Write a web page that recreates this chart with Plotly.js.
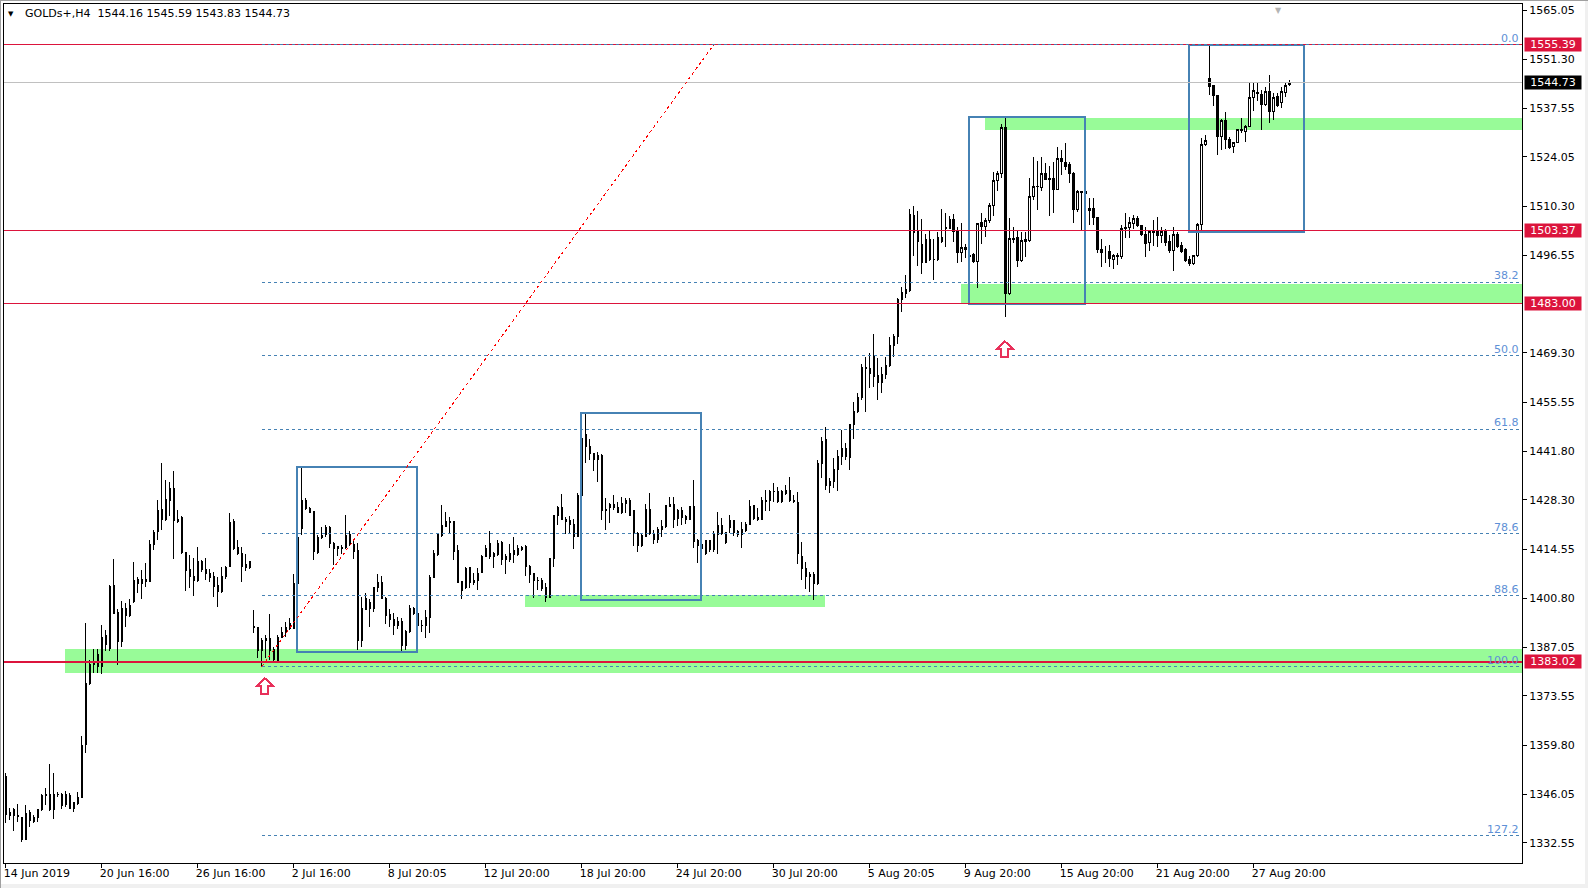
<!DOCTYPE html>
<html>
<head>
<meta charset="utf-8">
<script src="https://cdn.plot.ly/plotly-3.0.1.min.js"></script>
<style>
html,body{margin:0;padding:0;background:#fff;}
#chart{width:1588px;height:888px;}
.shapelayer path{shape-rendering:crispEdges;}
.trace.boxes path{shape-rendering:crispEdges;}
</style>
</head>
<body>
<div id="chart"></div>
<script>
// ---- Data (GOLDs+, H4, one value per bar, bar 0 = 14 Jun 2019 16:00) ----
const open = [
1351.0,1340.0,1341.7,1340.0,1339.6,1333.5,1340.9,1338.6,1339.6,1341.7,
1345.8,1346.1,1341.9,1346.1,1346.1,1345.9,1345.6,1342.1,1343.5,1345.2,
1360.1,1376.9,1382.4,1385.0,1381.7,1390.3,1386.8,1404.4,1396.9,1388.7,
1398.0,1395.9,1400.0,1406.1,1404.8,1406.1,1405.4,1415.7,1419.4,1425.5,
1422.8,1428.2,1431.5,1422.2,1423.4,1413.5,1408.7,1407.0,1405.7,1411.0,
1408.9,1407.8,1406.8,1404.5,1402.6,1406.8,1409.6,1422.1,1415.0,1413.2,
1410.1,1409.3,1393.0,1392.7,1386.2,1389.0,1389.6,1386.5,1383.4,1389.9,
1391.2,1392.4,1392.4,1405.0,1420.3,1428.2,1425.9,1424.9,1413.5,1417.8,
1418.5,1420.6,1416.1,1415.2,1414.8,1415.0,1418.6,1415.9,1414.1,1389.1,
1397.7,1399.6,1398.0,1403.8,1405.2,1400.8,1396.4,1394.9,1393.1,1394.3,
1387.7,1391.5,1398.0,1396.6,1393.3,1393.1,1395.5,1406.6,1412.9,1418.2,
1420.8,1421.9,1422.2,1414.1,1405.4,1403.8,1409.4,1405.2,1405.7,1408.0,
1412.4,1416.1,1412.4,1413.1,1416.3,1412.4,1411.5,1414.1,1413.1,1414.5,
1415.2,1409.8,1407.6,1405.9,1405.9,1403.8,1401.1,1411.8,1423.8,1426.2,
1422.9,1422.5,1421.3,1418.0,1429.6,1446.4,1443.3,1441.1,1439.6,1440.8,
1425.5,1426.2,1426.9,1426.2,1424.7,1427.3,1428.2,1425.3,1418.9,1415.4,
1418.0,1425.6,1418.9,1417.2,1419.9,1420.8,1426.4,1427.0,1423.1,1425.4,
1423.6,1422.9,1426.4,1416.8,1415.7,1413.2,1416.8,1414.3,1418.5,1421.0,
1419.1,1420.6,1422.4,1419.4,1418.5,1419.7,1421.4,1426.6,1422.7,1422.9,
1427.8,1428.1,1430.6,1430.6,1427.8,1430.8,1431.0,1428.2,1427.6,1412.6,
1409.2,1407.0,1407.3,1404.8,1438.3,1445.0,1432.2,1433.3,1436.8,1440.3,
1442.7,1440.1,1449.2,1452.9,1456.9,1465.3,1465.0,1468.3,1462.9,1461.0,
1463.2,1465.9,1471.5,1474.0,1484.3,1485.8,1486.7,1507.8,1503.2,1499.7,
1494.5,1501.0,1495.3,1495.3,1501.6,1504.1,1504.1,1506.6,1503.2,1497.3,
1498.8,1496.5,1496.9,1494.8,1505.6,1504.6,1506.4,1510.6,1517.6,1519.3,
1532.3,1486.0,1501.3,1501.6,1495.1,1500.4,1500.7,1513.1,1515.9,1515.5,
1519.3,1518.1,1518.1,1515.0,1523.7,1522.6,1521.8,1519.3,1509.4,1514.4,
1514.4,1509.0,1509.7,1507.2,1498.3,1497.5,1497.5,1495.5,1496.2,1496.2,
1504.0,1504.4,1505.5,1506.9,1504.8,1502.5,1500.1,1503.2,1503.2,1502.0,
1503.2,1500.4,1497.9,1502.5,1499.2,1498.2,1495.5,1494.3,1496.4,1505.3,
1527.4,1546.0,1543.9,1541.1,1529.7,1534.2,1529.0,1526.9,1528.0,1531.6,
1531.1,1532.5,1540.7,1541.9,1541.6,1538.6,1542.3,1536.7,1540.9,1539.2,
1542.0,1544.16];
const high = [
1352.1,1342.1,1342.1,1343.4,1339.8,1343.1,1341.7,1340.3,1341.9,1346.1,
1347.7,1354.5,1352.1,1346.8,1346.3,1347.1,1346.3,1344.0,1346.8,1362.3,
1393.8,1383.6,1386.5,1386.5,1393.3,1391.9,1404.5,1411.8,1397.7,1400.1,
1399.4,1400.5,1411.0,1406.6,1408.7,1410.6,1417.1,1419.9,1428.2,1438.7,
1433.8,1433.4,1436.2,1425.5,1423.8,1413.8,1412.9,1412.0,1415.0,1411.5,
1412.0,1408.9,1408.2,1406.8,1409.6,1409.8,1424.7,1422.8,1417.1,1415.0,
1413.2,1411.3,1397.5,1392.9,1389.6,1390.5,1396.4,1387.3,1390.5,1392.9,
1394.3,1395.2,1407.6,1418.2,1437.1,1428.7,1426.4,1425.0,1418.5,1420.8,
1421.3,1421.0,1416.6,1415.4,1415.7,1424.0,1419.7,1417.3,1416.1,1401.2,
1402.2,1400.5,1404.0,1407.6,1407.0,1401.2,1397.7,1396.6,1395.7,1395.2,
1391.9,1398.9,1398.4,1397.0,1394.7,1397.5,1407.3,1414.3,1418.9,1426.8,
1425.0,1423.6,1422.5,1415.7,1405.6,1409.6,1409.6,1407.8,1409.2,1412.8,
1415.7,1419.7,1413.8,1417.1,1416.9,1413.3,1416.0,1418.0,1415.7,1415.4,
1415.7,1410.1,1407.9,1406.6,1406.4,1405.0,1412.1,1424.0,1426.6,1429.9,
1423.6,1423.8,1422.8,1430.1,1445.6,1452.4,1445.2,1441.5,1441.7,1441.0,
1428.7,1427.3,1429.6,1427.8,1429.2,1428.7,1428.7,1425.5,1419.4,1418.8,
1427.1,1430.1,1419.9,1420.8,1422.7,1426.8,1429.2,1429.2,1425.6,1426.4,
1424.0,1426.6,1433.8,1417.3,1416.1,1417.1,1417.1,1419.7,1425.0,1423.1,
1419.4,1424.0,1422.5,1419.9,1422.2,1422.2,1428.2,1426.8,1425.9,1429.2,
1430.9,1431.0,1432.9,1432.0,1431.0,1432.4,1434.6,1429.6,1430.6,1416.6,
1411.0,1408.0,1408.2,1439.4,1445.9,1448.7,1434.3,1439.9,1442.2,1447.8,
1444.1,1449.6,1455.7,1458.0,1466.2,1468.3,1469.4,1474.6,1467.8,1465.5,
1468.3,1473.8,1474.6,1484.6,1487.8,1491.1,1509.4,1510.4,1509.0,1506.6,
1502.5,1503.6,1501.0,1503.2,1509.4,1508.3,1507.5,1508.1,1504.4,1505.7,
1499.7,1496.9,1497.1,1505.7,1508.4,1506.9,1511.1,1519.7,1520.0,1533.3,
1535.1,1506.9,1504.4,1503.6,1503.2,1503.2,1518.1,1524.1,1523.0,1524.1,
1522.3,1521.5,1522.7,1526.7,1526.0,1527.9,1522.7,1519.9,1514.8,1514.6,
1514.5,1512.5,1512.5,1507.4,1501.0,1499.2,1499.5,1497.0,1497.1,1505.0,
1508.5,1507.4,1507.8,1507.5,1505.0,1504.4,1503.6,1506.3,1507.2,1504.4,
1503.8,1502.3,1504.6,1503.2,1500.4,1498.5,1496.4,1496.7,1505.7,1529.2,
1530.2,1555.4,1544.1,1541.3,1534.5,1536.7,1529.5,1528.3,1531.8,1534.8,
1533.0,1544.8,1544.6,1544.6,1542.6,1543.5,1546.9,1542.0,1542.0,1543.5,
1545.1,1545.59];
const low = [
1338.0,1338.9,1335.9,1338.4,1332.6,1333.3,1336.8,1338.0,1338.4,1341.5,
1343.1,1341.5,1339.1,1345.2,1341.9,1342.6,1341.9,1341.2,1343.1,1345.2,
1357.5,1376.6,1379.8,1379.8,1379.7,1386.2,1386.2,1396.4,1382.2,1387.3,
1392.9,1395.7,1399.4,1402.2,1400.5,1404.0,1405.4,1414.3,1417.1,1419.9,
1422.5,1423.8,1411.7,1421.7,1413.3,1402.9,1403.6,1401.4,1405.4,1408.2,
1405.9,1405.4,1401.1,1398.5,1402.2,1406.1,1409.4,1414.3,1412.9,1405.4,
1408.5,1408.9,1391.0,1384.0,1381.7,1384.0,1383.6,1382.6,1383.4,1389.6,
1389.9,1391.9,1392.4,1405.0,1418.5,1425.4,1424.5,1411.5,1413.2,1417.3,
1417.8,1414.7,1410.1,1412.6,1413.3,1414.5,1415.4,1411.9,1386.3,1387.3,
1397.5,1392.7,1397.1,1402.6,1400.5,1393.6,1392.9,1390.5,1392.1,1385.9,
1386.3,1391.0,1396.1,1393.1,1391.5,1389.6,1391.2,1406.4,1412.6,1418.0,
1420.6,1419.1,1411.5,1405.0,1400.5,1403.3,1403.8,1404.5,1403.1,1407.8,
1412.2,1411.9,1409.2,1412.6,1410.1,1407.6,1411.0,1410.6,1412.6,1414.1,
1407.0,1405.2,1400.8,1403.1,1402.8,1399.8,1400.8,1409.6,1421.3,1422.7,
1418.8,1418.8,1414.5,1417.8,1429.4,1438.5,1439.4,1436.2,1433.4,1422.7,
1419.9,1421.9,1425.5,1424.5,1424.3,1424.5,1423.8,1415.4,1413.8,1415.2,
1417.8,1418.5,1416.0,1416.1,1418.0,1420.3,1426.2,1420.3,1421.0,1421.3,
1421.5,1422.7,1414.7,1410.7,1413.8,1412.9,1413.8,1413.8,1413.2,1418.5,
1416.0,1418.9,1418.2,1418.0,1414.7,1419.4,1421.3,1422.7,1422.5,1422.7,
1425.3,1425.3,1427.8,1427.5,1427.3,1429.6,1427.8,1427.5,1410.4,1406.0,
1403.5,1402.6,1400.2,1404.5,1434.3,1431.0,1430.1,1431.5,1430.8,1438.0,
1439.4,1436.6,1445.4,1452.6,1456.2,1452.9,1459.4,1459.9,1456.2,1458.2,
1461.9,1465.5,1468.1,1471.8,1480.8,1484.6,1486.4,1496.4,1493.6,1491.4,
1494.3,1495.1,1489.7,1495.1,1500.1,1498.8,1503.8,1500.4,1494.5,1494.8,
1495.7,1495.7,1494.5,1487.4,1499.6,1501.6,1505.5,1507.6,1514.4,1518.1,
1479.3,1485.5,1499.9,1493.4,1494.8,1496.2,1500.4,1512.0,1509.2,1514.6,
1517.6,1507.6,1508.5,1514.8,1519.0,1520.4,1516.7,1505.5,1508.8,1503.5,
1513.7,1505.0,1505.0,1497.3,1493.2,1494.3,1493.2,1492.7,1493.9,1495.5,
1501.3,1501.3,1503.8,1504.6,1502.0,1496.2,1497.9,1499.2,1498.8,1499.9,
1499.2,1497.3,1492.3,1498.5,1497.3,1494.8,1493.6,1493.9,1496.2,1503.2,
1527.1,1541.3,1538.3,1524.6,1526.0,1526.2,1526.2,1525.2,1527.8,1530.6,
1528.3,1532.3,1537.0,1539.8,1531.6,1538.3,1533.6,1534.4,1537.9,1537.6,
1540.9,1543.83];
const close = [
1340.3,1340.9,1340.0,1339.8,1333.5,1340.7,1338.7,1339.5,1341.7,1345.8,
1346.1,1341.7,1346.1,1346.0,1343.0,1343.3,1342.1,1343.7,1345.2,1359.8,
1377.0,1382.4,1382.6,1381.7,1389.9,1387.8,1404.2,1396.6,1388.7,1398.0,
1395.9,1398.9,1405.9,1404.8,1406.1,1405.4,1415.7,1419.1,1425.3,1422.8,
1428.4,1431.5,1422.5,1422.9,1413.5,1408.5,1406.8,1405.7,1411.0,1408.7,
1407.8,1406.6,1404.2,1402.6,1407.0,1409.4,1421.9,1414.7,1413.2,1409.8,
1409.3,1411.0,1392.7,1386.3,1389.0,1389.6,1386.2,1383.7,1389.9,1391.2,
1392.7,1393.8,1405.0,1417.8,1428.2,1425.9,1424.7,1413.8,1417.8,1418.2,
1420.6,1416.0,1414.7,1414.6,1415.0,1418.4,1415.7,1413.8,1389.1,1398.0,
1400.8,1398.0,1403.8,1405.2,1400.8,1396.1,1394.9,1393.1,1394.3,1387.7,
1391.5,1398.0,1396.6,1393.3,1393.1,1395.5,1406.6,1413.2,1418.5,1421.0,
1422.2,1422.2,1413.8,1405.2,1403.1,1409.2,1405.2,1405.9,1407.8,1412.6,
1414.7,1412.4,1413.3,1416.1,1411.5,1411.7,1413.3,1412.9,1414.6,1415.0,
1409.6,1407.3,1405.7,1405.7,1403.6,1401.1,1411.8,1423.8,1426.1,1422.9,
1422.2,1421.3,1418.0,1429.6,1445.4,1443.1,1441.1,1439.6,1440.8,1425.3,
1425.4,1426.9,1426.1,1424.7,1427.3,1428.2,1424.0,1418.8,1415.4,1418.2,
1425.6,1418.8,1417.2,1419.9,1420.8,1426.6,1427.0,1422.9,1425.4,1423.4,
1422.9,1426.4,1416.6,1415.5,1414.7,1416.8,1414.3,1418.5,1421.0,1418.8,
1416.3,1422.4,1419.1,1418.5,1419.9,1421.5,1426.4,1423.1,1423.3,1428.2,
1428.2,1430.6,1430.5,1427.8,1430.6,1430.1,1428.1,1427.8,1413.4,1409.2,
1407.0,1407.3,1404.8,1438.3,1444.7,1432.2,1433.5,1436.8,1440.5,1442.7,
1440.5,1449.2,1452.9,1456.9,1465.3,1465.1,1463.6,1462.7,1461.0,1463.2,
1465.9,1471.5,1474.0,1484.3,1486.1,1486.9,1508.1,1502.9,1500.4,1494.5,
1501.0,1495.3,1495.5,1501.6,1500.4,1504.3,1506.6,1503.2,1497.3,1498.8,
1498.2,1496.2,1494.8,1505.5,1504.6,1506.4,1510.6,1517.6,1519.3,1532.3,
1486.0,1501.3,1500.9,1495.1,1500.7,1500.9,1513.1,1515.9,1515.7,1519.3,
1517.8,1517.8,1515.0,1523.7,1522.7,1521.5,1519.3,1509.4,1514.4,1514.2,
1513.9,1509.7,1507.2,1498.1,1497.3,1497.5,1495.7,1496.6,1496.6,1504.1,
1504.4,1505.7,1506.9,1504.8,1502.3,1499.9,1503.2,1503.0,1502.0,1503.2,
1500.1,1497.9,1502.5,1499.0,1497.6,1495.1,1494.3,1496.4,1505.3,1527.4,
1528.6,1543.7,1541.1,1529.7,1534.2,1528.8,1526.7,1528.0,1531.6,1531.5,
1532.5,1540.7,1542.5,1541.8,1538.6,1542.3,1536.7,1540.7,1538.3,1542.3,
1544.0,1544.73];

const dateTickBars = [0,24,48,72,96,120,144,168,192,216,240,264,288,312];
const dateTickText = ['14 Jun 2019','20 Jun 16:00','26 Jun 16:00','2 Jul 16:00','8 Jul 20:05',
  '12 Jul 20:00','18 Jul 20:00','24 Jul 20:00','30 Jul 20:00','5 Aug 20:05',
  '9 Aug 20:00','15 Aug 20:00','21 Aug 20:00','27 Aug 20:00'];
const priceTicks = [1565.05,1551.30,1537.55,1524.05,1510.30,1496.55,1469.30,1455.55,1441.80,
  1428.30,1414.55,1400.80,1387.05,1373.55,1359.80,1346.05,1332.55];
const priceTickText = priceTicks.map(v => v.toFixed(2));

const redLevels = [1555.39, 1503.37, 1483.00, 1383.02];
const bidPrice = 1544.73;

const fibLevels = [0, 38.2, 50, 61.8, 78.6, 88.6, 100, 127.2];
const fibLabels = ['0.0','38.2','50.0','61.8','78.6','88.6','100.0','127.2'];
const fibHigh = 1555.39, fibLow = 1381.70;
const fibLowBar = 64, fibHighBar = 177;

// support / resistance zones (green) : start bar, end bar (null = right edge), top, bottom
const zoneStart = [14.8, 129.8, 238.8, 244.8];
const zoneEnd   = [null, 204.9, null, null];
const zoneTop   = [1386.6, 1401.7, 1488.55, 1534.8];
const zoneBot   = [1380.0, 1398.45, 1482.95, 1531.6];

// consolidation boxes (blue outline)
const boxStart = [72.9, 143.8, 240.8, 295.8];
const boxEnd   = [102.75, 173.8, 269.8, 324.7];
const boxTop   = [1437.55, 1452.6, 1535.2, 1555.2];
const boxBot   = [1385.7, 1400.3, 1483.1, 1503.2];

// signal arrows
const arrowBars  = [64.8, 249.8];
const arrowPrice = [1376.2, 1470.3];

const header = 'GOLDs+,H4\u00a0\u00a0' + [open[open.length-1], high[high.length-1], low[low.length-1], close[close.length-1]].map(v=>v.toFixed(2)).join(' ');

// ---- drawing ----
const FONT = 'DejaVu Sans';
const X_MAX = 379.08;
const bars = open.map((_, i) => i);

const shapes = [];
zoneStart.forEach((s, i) => {
  shapes.push({type:'rect', layer:'below', xref:'x', yref:'y', x0:s, x1:(zoneEnd[i]===null? X_MAX+5 : zoneEnd[i]),
    y0:zoneBot[i], y1:zoneTop[i], fillcolor:'#98FB98', line:{width:0}});
});
boxStart.forEach((s, i) => {
  shapes.push({type:'rect', layer:'above', xref:'x', yref:'y', x0:s, x1:boxEnd[i], y0:boxBot[i], y1:boxTop[i],
    fillcolor:'rgba(0,0,0,0)', line:{color:'#4682B4', width:2}});
});
shapes.push({type:'line', layer:'above', xref:'x', yref:'y', x0:-5, x1:X_MAX+5, y0:bidPrice, y1:bidPrice,
  line:{color:'#C0C0C0', width:1}});
redLevels.forEach((p, i) => {
  shapes.push({type:'line', layer:'above', xref:'x', yref:'y', x0:-5, x1:X_MAX+5, y0:p, y1:p,
    line:{color:'#DC143C', width:(i===3?2:1)}});
});
fibLevels.forEach(l => {
  const p = fibHigh - (fibHigh - fibLow) * l / 100;
  shapes.push({type:'line', layer:'above', xref:'x', yref:'y', x0:fibLowBar, x1:X_MAX+5, y0:p, y1:p,
    line:{color:'#4682B4', width:1, dash:'3px,3px'}});
});
shapes.push({type:'line', layer:'above', xref:'x', yref:'y', x0:fibLowBar, x1:fibHighBar, y0:fibLow, y1:fibHigh,
  line:{color:'#FF0000', width:1, dash:'dot'}});
// hollow up arrows (pixel-sized, anchored at data point)
arrowBars.forEach((b, i) => {
  shapes.push({type:'path', layer:'above', xref:'x', yref:'y', xsizemode:'pixel', ysizemode:'pixel',
    xanchor:b, yanchor:arrowPrice[i],
    path:'M 0,8 L 8.5,0 L 3.5,0 L 3.5,-8 L -3.5,-8 L -3.5,0 L -8.5,0 Z',
    fillcolor:'#FFFFFF', line:{color:'#E8305A', width:2}});
});
// window frame
shapes.push({type:'rect', xref:'paper', yref:'paper', x0:1.0415, x1:1.0440, y0:-0.03, y1:1.01, fillcolor:'#F0F0F0', line:{width:0}});
shapes.push({type:'rect', xref:'paper', yref:'paper', x0:-0.01, x1:1.05, y0:-0.0300, y1:-0.0245, fillcolor:'#F0F0F0', line:{width:0}});
shapes.push({type:'line', xref:'paper', yref:'paper', x0:-0.0023, x1:-0.0023, y0:-0.03, y1:1.005, line:{color:'#A0A0A0', width:1}});
shapes.push({type:'line', xref:'paper', yref:'paper', x0:-0.003, x1:1.045, y0:1.0041, y1:1.0041, line:{color:'#A0A0A0', width:1}});

const annotations = [];
redLevels.forEach(p => {
  annotations.push({xref:'paper', yref:'y', x:1, y:p, xanchor:'left', yanchor:'middle', xshift:2,
    text:p.toFixed(2), showarrow:false, bgcolor:'#DC143C', font:{family:FONT, size:11, color:'#FFFFFF'},
    width:54, height:11, borderpad:1, align:'center'});
});
annotations.push({xref:'paper', yref:'y', x:1, y:bidPrice, xanchor:'left', yanchor:'middle', xshift:2,
  text:bidPrice.toFixed(2), showarrow:false, bgcolor:'#000000', font:{family:FONT, size:11, color:'#FFFFFF'},
  width:54, height:11, borderpad:1, align:'center'});
fibLevels.forEach((l, i) => {
  const p = fibHigh - (fibHigh - fibLow) * l / 100;
  annotations.push({xref:'paper', yref:'y', x:1, y:p, xanchor:'right', yanchor:'bottom', xshift:-1, yshift:-2,
    text:fibLabels[i], showarrow:false, font:{family:FONT, size:11, color:'#5E90D6'}});
});
annotations.push({xref:'paper', yref:'paper', x:0.0125, y:0.9884, xanchor:'left', yanchor:'middle',
  text:header, showarrow:false, font:{family:FONT, size:11, color:'#000000'}});
annotations.push({xref:'paper', yref:'paper', x:0.0046, y:0.9884, xanchor:'center', yanchor:'middle',
  text:'\u25BC', showarrow:false, font:{family:FONT, size:7, color:'#000000'}});
annotations.push({xref:'paper', yref:'paper', x:0.8393, y:1, xanchor:'center', yanchor:'top',
  text:'\u25BC', showarrow:false, font:{family:FONT, size:8, color:'#B4B4B4'}});

const trace = {
  type:'candlestick', x:bars, open:open, high:high, low:low, close:close,
  increasing:{line:{color:'#000000', width:1}, fillcolor:'#FFFFFF'},
  decreasing:{line:{color:'#000000', width:1}, fillcolor:'#000000'},
  whiskerwidth:0, hoverinfo:'skip', showlegend:false
};

const layout = {
  width:1588, height:888,
  margin:{l:4, r:66, t:4, b:25, pad:0},
  paper_bgcolor:'#FFFFFF', plot_bgcolor:'#FFFFFF',
  showlegend:false, boxgap:0.5,
  font:{family:FONT, size:11, color:'#000000'},
  xaxis:{range:[-0.43, X_MAX], rangeslider:{visible:false}, showgrid:false, zeroline:false,
    showline:true, mirror:true, linecolor:'#000000', linewidth:1,
    tickmode:'array', tickvals:dateTickBars, ticktext:dateTickText,
    ticks:'outside', ticklen:4, tickcolor:'#000000', ticklabelposition:'outside right', ticklabelshift:-3,
    tickfont:{family:FONT, size:11, color:'#000000'}, fixedrange:true},
  yaxis:{range:[1326.87, 1566.75], side:'right', showgrid:false, zeroline:false,
    showline:true, mirror:true, linecolor:'#000000', linewidth:1,
    tickmode:'array', tickvals:priceTicks, ticktext:priceTickText,
    ticks:'outside', ticklen:4, tickcolor:'#000000',
    tickfont:{family:FONT, size:11, color:'#000000'}, fixedrange:true},
  shapes:shapes, annotations:annotations
};

Plotly.newPlot('chart', [trace], layout, {displayModeBar:false, staticPlot:true});
</script>
</body>
</html>
